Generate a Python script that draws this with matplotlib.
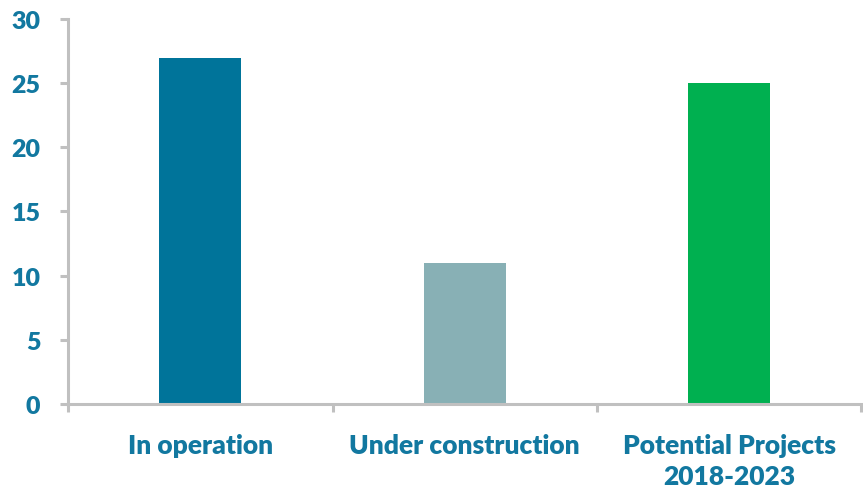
import matplotlib
matplotlib.use("Agg")
import matplotlib.pyplot as plt

categories = ["In operation", "Under construction", "Potential Projects\n2018-2023"]
values = [27, 11, 25]
bar_colors = ["#00749a", "#88b0b5", "#00b050"]
y_ticks = [0, 5, 10, 15, 20, 25, 30]

text_color = "#1278a0"
axis_color = "#c0c0c0"

plt.rcParams["font.family"] = ["Lato", "DejaVu Sans"]

fig = plt.figure(figsize=(8.63, 4.89), dpi=100)
ax = fig.add_axes([0.079, 0.172, 0.919, 0.787])

x = range(len(categories))
ax.bar(x, values, width=0.31, color=bar_colors)

ax.set_xlim(-0.5, len(categories) - 0.5)
ax.set_ylim(0, 30)

# category boundaries get tick marks, labels sit in between
ax.set_xticks([i - 0.5 for i in range(len(categories) + 1)])
ax.set_xticklabels([])
ax.set_xticks(list(x), minor=True)
ax.set_xticklabels(categories, minor=True, fontsize=19, fontweight="heavy",
                   color=text_color, linespacing=1.35)
ax.tick_params(axis="x", which="minor", length=0, pad=21)
ax.tick_params(axis="x", which="major", length=6, width=2.2, color=axis_color)

ax.set_yticks(y_ticks)
ax.set_yticklabels([str(t) for t in y_ticks], fontsize=18, fontweight="heavy",
                   color=text_color)
ax.tick_params(axis="y", length=6, width=2.2, color=axis_color, pad=14)

for side in ["top", "right"]:
    ax.spines[side].set_visible(False)
for side in ["left", "bottom"]:
    ax.spines[side].set_color(axis_color)
    ax.spines[side].set_linewidth(2.2)

fig.savefig("out.png", dpi=100)
